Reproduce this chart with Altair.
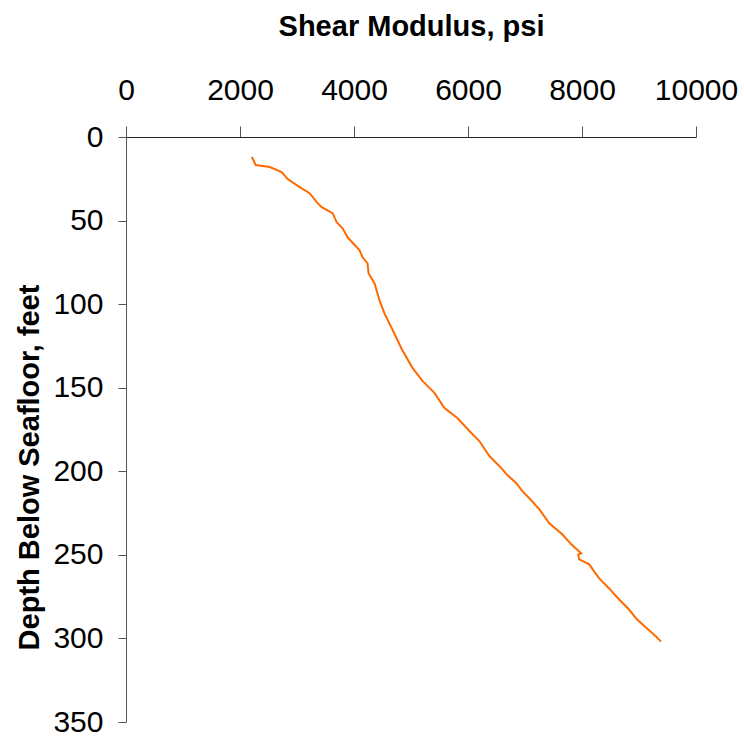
import altair as alt
import pandas as pd

# Shear modulus (psi) and depth below seafloor (feet)
modulus = [2207, 2277, 2522, 2732, 2837, 3047, 3222, 3345, 3433, 3625,
           3695, 3800, 3888, 4098, 4151, 4238, 4256, 4361, 4448, 4536,
           4676, 4834, 5026, 5201, 5411, 5587, 5814, 6024, 6199, 6375,
           6585, 6673, 6848, 6953, 7075, 7250, 7426, 7653, 7811, 7986,
           7934, 7951, 8126, 8301, 8476, 8651, 8826, 8967, 9142, 9299, 9387]
depth = [12.0, 16.8, 18.0, 21.0, 25.2, 30.0, 33.6, 39.0, 42.0, 45.6,
         51.0, 54.6, 60.0, 67.8, 72.0, 75.6, 81.6, 87.6, 97.8, 105.7,
         115.3, 126.7, 138.1, 145.9, 153.1, 162.1, 168.1, 175.9, 181.9, 190.9,
         198.1, 201.7, 207.1, 211.9, 216.1, 222.7, 231.1, 237.7, 243.7, 249.1,
         249.7, 252.7, 255.7, 264.1, 270.1, 276.7, 282.7, 288.7, 294.1, 298.9, 301.9]

x_ticks = [0, 2000, 4000, 6000, 8000, 10000]
y_ticks = [0, 50, 100, 150, 200, 250, 300, 350]

df = pd.DataFrame({"modulus": modulus, "depth": depth, "idx": list(range(len(depth)))})

label_font = "Liberation Sans, Arial, sans-serif"
title_font = "Liberation Sans, Arial, sans-serif"

chart = alt.Chart(df).mark_line(color="#FF6A00", strokeWidth=2).encode(
    x=alt.X("modulus:Q",
            scale=alt.Scale(domain=[0, 10000], nice=False),
            axis=alt.Axis(orient="top", values=x_ticks, format="d", title="Shear Modulus, psi",
                          grid=False, tickSize=11, labelPadding=27,
                          labelBaseline="alphabetic", labelFontSize=30,
                          labelFont=label_font, labelColor="black",
                          domainColor="#222", tickColor="#555",
                          titleFont=title_font, titleFontSize=29, titleFontWeight="bold",
                          titleColor="black", titleBaseline="alphabetic",
                          titleX=285, titleY=-102, labelOverlap=False,
                          labelFlush=False)),
    y=alt.Y("depth:Q",
            scale=alt.Scale(domain=[0, 350], reverse=True, nice=False),
            axis=alt.Axis(orient="left", values=y_ticks, format="d",
                          title="Depth Below Seafloor, feet",
                          grid=False, tickSize=8, labelPadding=15,
                          labelFontSize=30, labelFont=label_font, labelColor="black",
                          domainColor="#555", tickColor="#555",
                          titleFont=title_font, titleFontSize=29, titleFontWeight="bold",
                          titleColor="black", titleBaseline="alphabetic", titleAngle=270,
                          titleX=-88, titleY=330, labelOverlap=False, labelFlush=False)),
    order="idx:Q",
).properties(
    width=570,
    height=585,
    autosize=alt.AutoSizeParams(type="none"),
    padding={"left": 126, "top": 137, "right": 48, "bottom": 22},
    background="white",
).configure_view(stroke=None)

chart.save("out.html", embed_options={"renderer": "svg", "actions": False})
